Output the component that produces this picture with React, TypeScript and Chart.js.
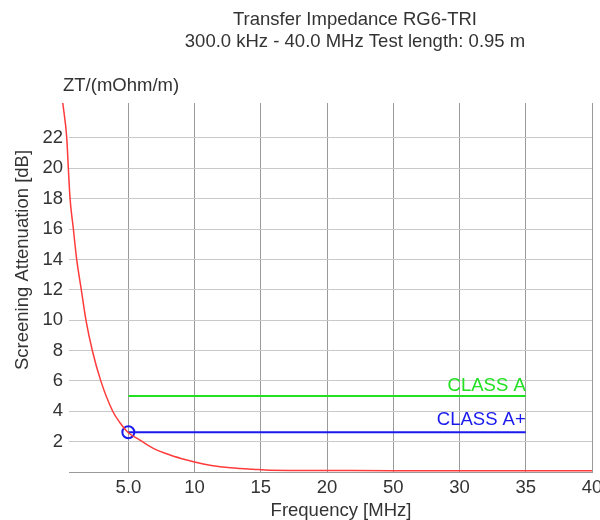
import { useEffect, useRef } from "react";
import { Chart, registerables } from "chart.js";

Chart.register(...registerables);

const titleLines = ["Transfer Impedance RG6-TRI", "300.0 kHz - 40.0 MHz Test length: 0.95 m"];
const unitLabel = "ZT/(mOhm/m)";
const xTitle = "Frequency [MHz]";
const yTitle = "Screening Attenuation [dB]";

const freqMHz = [0.05, 0.35, 0.47, 0.6, 0.85, 1.1, 1.45, 1.8, 2.28, 2.92, 3.82, 4.37, 4.98, 5.88, 6.89, 8.15, 9.41, 10.66, 11.93, 13.2, 14.4, 15.7, 20, 25, 30, 35, 40];
const attenuation = [24.3, 22, 20, 18, 16, 14, 12, 10, 8, 6, 4, 3.24, 2.6, 2.1, 1.56, 1.12, 0.79, 0.53, 0.35, 0.24, 0.18, 0.12, 0.1, 0.09, 0.09, 0.09, 0.09];

const classNames = ["CLASS A", "CLASS A+"];
const classLevels = [5.0, 2.62];
const classColors = ["#22e022", "#1a1aee"];
const classFrom = 5;
const classTo = 35;

const markerFreq = 5;
const markerLevel = 2.62;

const xTickValues = [5, 10, 15, 20, 25, 30, 35, 40];
const xTickLabels = ["5.0", "10", "15", "20", "50", "30", "35", "40"];
const yTickValues = [2, 4, 6, 8, 10, 12, 14, 16, 18, 20, 22];

const FONT = "'Liberation Sans', Arial, sans-serif";
const FS = 18.5;
const TEXT = "#333333";

export default function App() {
  const ref = useRef<HTMLCanvasElement | null>(null);

  useEffect(() => {
    if (!ref.current) return;
    const textPlugin = {
      id: "customText",
      afterDraw(chart: any) {
        const ctx = chart.ctx;
        const xs = chart.scales.x;
        const ys = chart.scales.y;
        ctx.save();
        ctx.fillStyle = TEXT;
        ctx.font = `${FS}px ${FONT}`;
        ctx.textAlign = "center";
        ctx.textBaseline = "alphabetic";
        ctx.fillText(titleLines[0], 347, 17);
        ctx.fillText(titleLines[1], 347, 38.5);
        ctx.textAlign = "left";
        ctx.fillText(unitLabel, 55, 82.5);
        ctx.textAlign = "center";
        ctx.fillText(xTitle, 333, 508);
        ctx.save();
        ctx.translate(20, 252);
        ctx.rotate(-Math.PI / 2);
        ctx.fillText(yTitle, 0, 0);
        ctx.restore();
        ctx.textAlign = "right";
        const offs = [5, 7];
        classNames.forEach((n, i) => {
          ctx.fillStyle = classColors[i];
          ctx.fillText(n, xs.getPixelForValue(classTo), ys.getPixelForValue(classLevels[i]) - offs[i]);
        });
        ctx.restore();
      },
    };

    // points listed from high to low frequency so every point is drawn, including those left of the axis minimum
    const curve = freqMHz.map((f, i) => ({ x: f, y: attenuation[i] })).reverse();

    const chart = new Chart(ref.current, {
      type: "scatter",
      data: {
        datasets: [
          {
            data: curve,
            showLine: true,
            borderColor: "#ff3b3b",
            borderWidth: 1.5,
            pointRadius: 0,
            cubicInterpolationMode: "monotone",
            clip: false,
          } as any,
          ...classLevels.map((lv, i) => ({
            data: [
              { x: classFrom, y: lv },
              { x: classTo, y: lv },
            ],
            showLine: true,
            borderColor: classColors[i],
            borderWidth: 2,
            pointRadius: 0,
          })),
          {
            data: [{ x: markerFreq, y: markerLevel }],
            pointRadius: 6,
            pointBorderWidth: 2,
            pointBorderColor: "#1a1aee",
            pointBackgroundColor: "rgba(0,0,0,0)",
            showLine: false,
          },
        ],
      },
      options: {
        animation: false,
        responsive: false,
        devicePixelRatio: 1,
        layout: { padding: { left: 0, right: 8, top: 95, bottom: 0 } },
        plugins: {
          legend: { display: false },
          tooltip: { enabled: false },
          title: { display: false },
        },
        scales: {
          x: {
            type: "linear",
            min: 0.52,
            max: 40,
            afterFit: (s: any) => {
              s.height = 48;
              s.paddingLeft = 0;
              s.paddingRight = 0;
            },
            afterBuildTicks: (s: any) => {
              s.ticks = xTickValues.map((v) => ({ value: v }));
            },
            ticks: {
              autoSkip: false,
              maxRotation: 0,
              padding: 5,
              color: TEXT,
              font: { family: FONT, size: FS },
              callback: (v: any) => {
                const i = xTickValues.indexOf(Number(v));
                return i >= 0 ? xTickLabels[i] : "";
              },
            },
            grid: { color: "#9a9a9a", lineWidth: 1, drawTicks: false },
            border: { display: true, color: "#9a9a9a", width: 1 },
          },
          y: {
            type: "linear",
            min: 0,
            max: 24.3,
            afterFit: (s: any) => {
              s.width = 61;
              s.paddingTop = 0;
              s.paddingBottom = 0;
            },
            afterBuildTicks: (s: any) => {
              s.ticks = yTickValues.map((v) => ({ value: v }));
            },
            ticks: {
              autoSkip: false,
              padding: 6,
              color: TEXT,
              font: { family: FONT, size: FS },
              callback: (v: any) => String(v),
            },
            grid: { color: "#c8c8c8", lineWidth: 1, drawTicks: false },
            border: { display: false },
          },
        },
      },
      plugins: [textPlugin],
    } as any);
    return () => chart.destroy();
  }, []);

  return (
    <div style={{ position: "fixed", left: 8, top: 8, width: 592, height: 512, overflow: "hidden" }}>
      <canvas ref={ref} width={592} height={512} style={{ display: "block", width: 592, height: 512 }} />
    </div>
  );
}
